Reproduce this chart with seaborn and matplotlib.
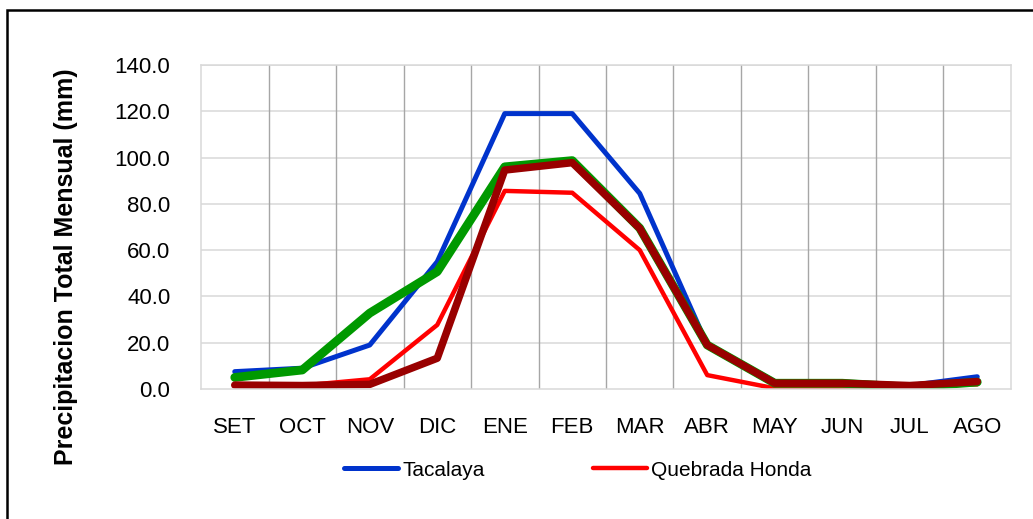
import matplotlib
matplotlib.use("Agg")
import matplotlib.pyplot as plt
import matplotlib.patches as mpatches
from matplotlib.lines import Line2D
import seaborn as sns

meses = ["SET", "OCT", "NOV", "DIC", "ENE", "FEB", "MAR", "ABR", "MAY", "JUN", "JUL", "AGO"]
tacalaya = [7.5, 9.0, 19.0, 55.0, 119.0, 119.0, 84.5, 19.0, 3.2, 3.0, 1.5, 5.3]
quebrada_honda = [2.0, 1.5, 4.2, 27.7, 85.6, 84.8, 60.0, 6.0, 0.3, 1.0, 1.2, 2.0]
serie_verde = [5.0, 8.2, 32.8, 50.7, 96.0, 98.7, 69.5, 19.0, 2.5, 2.5, 0.8, 3.0]
serie_granate = [1.7, 1.5, 2.0, 13.3, 94.6, 97.8, 69.4, 19.0, 2.5, 2.5, 1.5, 3.2]
ticks_y = [0, 20, 40, 60, 80, 100, 120, 140]

sns.set_style("white")
plt.rcParams['font.family'] = ['Liberation Sans', 'DejaVu Sans']
plt.rcParams['text.color'] = 'black'

fig = plt.figure(figsize=(10.33, 5.19), dpi=100)
ax = fig.add_axes([201/1033, 1 - 389/519, 810/1033, 324/519])

# orden de dibujo: azul, rojo, verde, granate
sns.lineplot(x=meses, y=tacalaya, color="#0033CC", linewidth=3.6, ax=ax,
             legend=False, solid_capstyle="round")
sns.lineplot(x=meses, y=quebrada_honda, color="#FF0000", linewidth=3.2, ax=ax,
             legend=False, solid_capstyle="round")
sns.lineplot(x=meses, y=serie_verde, color="#009900", linewidth=6.3, ax=ax,
             legend=False, solid_capstyle="round")
sns.lineplot(x=meses, y=serie_granate, color="#990000", linewidth=5.4, ax=ax,
             legend=False, solid_capstyle="round")

ax.set_xlim(-0.5, len(meses) - 0.5)
ax.set_ylim(0, 140)
ax.set_yticks(ticks_y)
ax.set_yticklabels([f"{v:.1f}" for v in ticks_y])
ax.set_xticks(range(len(meses)))
ax.set_xticklabels(meses)
ax.tick_params(axis="both", length=0, labelsize=16, colors="black")
ax.tick_params(axis="x", pad=20)
ax.tick_params(axis="y", pad=22)

# rejilla
for v in ticks_y[1:]:
    ax.axhline(v, color="#D9D9D9", linewidth=1.1, zorder=0)
for i in range(len(meses) - 1):
    ax.axvline(i + 0.5, color="#A6A6A6", linewidth=1.0, zorder=0)
for s in ax.spines.values():
    s.set_color("#D9D9D9")
    s.set_linewidth(1.1)

ax.set_ylabel("Precipitacion Total Mensual (mm)", fontsize=18, fontweight="bold",
              color="black")
ax.yaxis.set_label_coords((78 - 201) / 810, (389 - 267) / 324)

handles = [Line2D([], [], color="#0033CC", linewidth=3.6, solid_capstyle="round"),
           Line2D([], [], color="#FF0000", linewidth=3.2, solid_capstyle="round")]
fig.legend(handles, ["Tacalaya", "Quebrada Honda"], loc="center left",
           bbox_to_anchor=(344/1033, 1 - 470/519), ncol=2, frameon=False,
           fontsize=15, handlelength=2.6, handletextpad=0.2, columnspacing=5.2,
           borderpad=0, borderaxespad=0, labelcolor="black")

# marco del grafico
marco = mpatches.Rectangle((7/1033, -0.2), 1.5, 1.2 - 10/519, transform=fig.transFigure,
                           fill=False, edgecolor="black", linewidth=1.8, clip_on=False)
fig.patches.append(marco)

fig.savefig("out.png", dpi=100)
